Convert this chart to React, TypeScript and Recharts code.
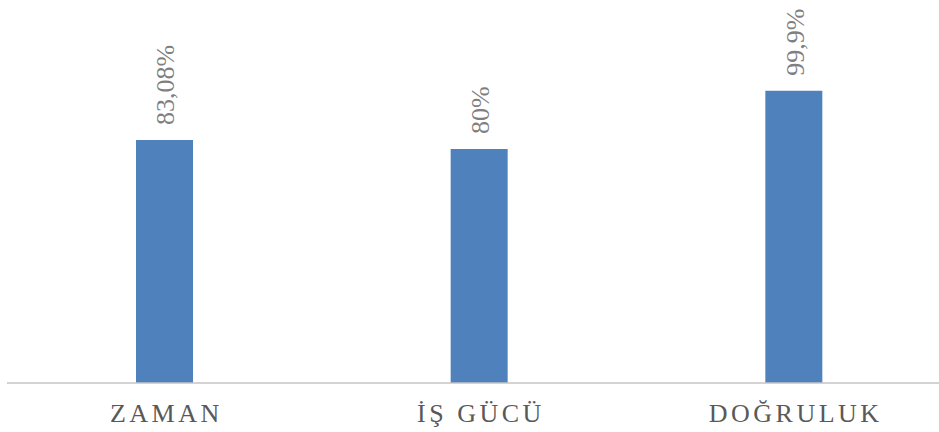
import { Bar, BarChart, LabelList, XAxis, YAxis } from "recharts";

// Kategoriler ve yüzde değerleri
const categories = ["ZAMAN", "İŞ GÜCÜ", "DOĞRULUK"];
const percentValues = [83.08, 80, 99.9];

const data = categories.map((name, i) => ({ name, value: percentValues[i] }));

const serif = '"Liberation Serif", "Times New Roman", serif';

const formatPercent = (v: number) => `${String(v).replace(".", ",")}%`;

function CategoryTick(props: any) {
  const { x, y, payload } = props;
  return (
    <text
      x={x + 2}
      y={y + 31}
      textAnchor="middle"
      fill="#595959"
      fontFamily={serif}
      fontSize={26}
      letterSpacing={3.5}
    >
      {payload.value}
    </text>
  );
}

function RotatedValue(props: any) {
  const { x, y, width, value } = props;
  const bx = Number(x) + Number(width) / 2 + 10;
  const by = Number(y) - 15;
  return (
    <text
      x={bx}
      y={by}
      transform={`rotate(-90, ${bx}, ${by})`}
      textAnchor="start"
      fill="#7f7f7f"
      fontFamily={serif}
      fontSize={26}
    >
      {formatPercent(Number(value))}
    </text>
  );
}

export default function App() {
  return (
    <div
      style={{
        position: "fixed",
        top: 0,
        left: 0,
        width: 939,
        height: 432,
        overflow: "hidden",
        background: "#ffffff",
      }}
    >
      <BarChart
        width={951}
        height={432}
        data={data}
        margin={{ top: 32, right: 0, left: 7, bottom: 0 }}
      >
        <XAxis
          dataKey="name"
          height={49}
          tickLine={false}
          axisLine={{ stroke: "#c4c4c4", strokeWidth: 1.5 }}
          tick={<CategoryTick />}
          interval={0}
        />
        <YAxis hide domain={[0, 120]} />
        <Bar dataKey="value" fill="#4f81bd" barSize={57} isAnimationActive={false}>
          <LabelList dataKey="value" content={<RotatedValue />} />
        </Bar>
      </BarChart>
    </div>
  );
}
